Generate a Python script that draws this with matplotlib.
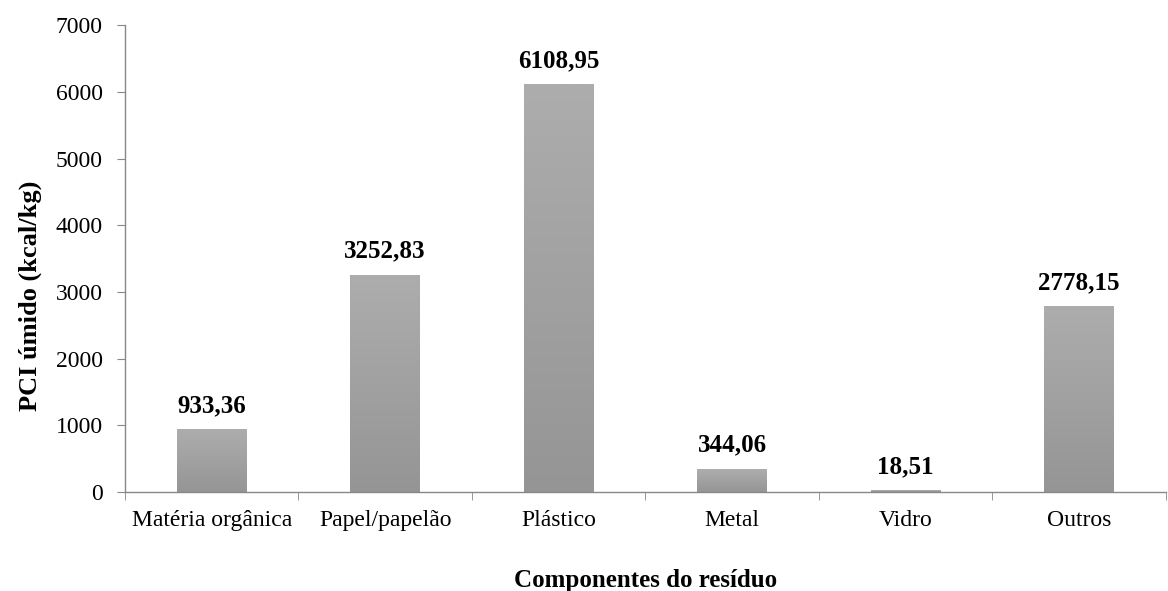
import matplotlib
matplotlib.use("Agg")
import matplotlib.pyplot as plt
import numpy as np
from matplotlib.colors import LinearSegmentedColormap

categories = ["Matéria orgânica", "Papel/papelão", "Plástico", "Metal", "Vidro", "Outros"]
values = [933.36, 3252.83, 6108.95, 344.06, 18.51, 2778.15]
value_labels = ["933,36", "3252,83", "6108,95", "344,06", "18,51", "2778,15"]
yticks = [0, 1000, 2000, 3000, 4000, 5000, 6000, 7000]

plt.rcParams['font.family'] = ['Liberation Serif', 'DejaVu Serif']

fig = plt.figure(figsize=(11.68, 5.91), dpi=100)
ax = fig.add_axes([0.107, 0.1675, 0.891, 0.79])

x = np.arange(len(categories))
width = 0.4
bars = ax.bar(x, values, width=width, color='none', edgecolor='none', zorder=2)

cmap = LinearSegmentedColormap.from_list('g', ['#959595', '#adadad'])
grad = np.linspace(0, 1, 256).reshape(-1, 1)
for b in bars:
    x0 = b.get_x(); w = b.get_width(); h = b.get_height()
    if h <= 0:
        continue
    ax.imshow(grad, extent=[x0, x0 + w, 0, h], origin='lower', aspect='auto',
              cmap=cmap, zorder=2, interpolation='bilinear')

for xi, v, lab in zip(x, values, value_labels):
    ax.annotate(lab, (xi, v), xytext=(0, 9), textcoords='offset points',
                ha='center', va='bottom', fontsize=18, fontweight='bold')

ax.set_xlim(-0.5, len(categories) - 0.5)
ax.set_ylim(0, 7000)
ax.set_yticks(yticks)
ax.set_yticklabels([str(t) for t in yticks], fontsize=17)
ax.set_xticks(x)
ax.set_xticklabels(categories, fontsize=17)
ax.tick_params(axis='x', length=0, pad=13)
ax.set_xticks(np.arange(-0.5, len(categories) + 0.5, 1), minor=True)
ax.tick_params(axis='x', which='minor', length=6, color='#888888', direction='out')
ax.tick_params(axis='y', length=6, color='#888888', direction='out', pad=10)

for s in ['top', 'right']:
    ax.spines[s].set_visible(False)
for s in ['left', 'bottom']:
    ax.spines[s].set_color('#888888')
    ax.spines[s].set_linewidth(1)

ax.set_ylabel("PCI úmido (kcal/kg)", fontsize=19, fontweight='bold')
ax.yaxis.set_label_coords(-0.08, 0.42)
ax.set_xlabel("Componentes do resíduo", fontsize=18, fontweight='bold', labelpad=27)

fig.savefig("out.png", dpi=100)
